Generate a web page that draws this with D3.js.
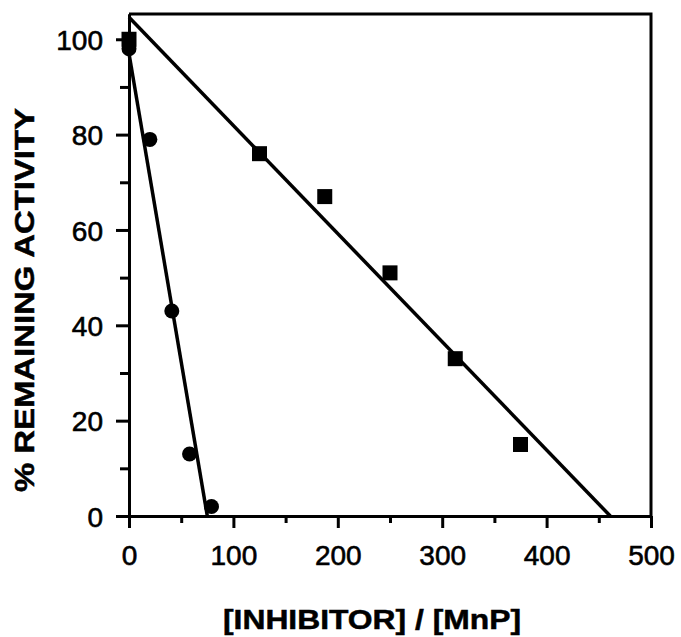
<!DOCTYPE html>
<html>
<head>
<meta charset="utf-8">
<script src="https://cdn.jsdelivr.net/npm/d3@7"></script>
<style>
  body { margin: 0; background: #fff; }
  svg { display: block; }
</style>
</head>
<body>
<div id="chart"></div>
<script>
// data
var squareX = [0, 125, 187.5, 250, 312.5, 375];
var squareY = [100, 76, 67, 51, 33, 15];
var circleX = [0, 20, 41, 58, 79];
var circleY = [98, 79, 43, 13, 2];
// fitted lines (end points)
var squareFitX = [0, 461];
var squareFitY = [104.6, 0];
var circleFitX = [0, 75];
var circleFitY = [97, 0];

var xMajor = [0, 100, 200, 300, 400, 500];
var xMinor = [50, 150, 250, 350, 450];
var yMajor = [0, 20, 40, 60, 80, 100];
var yMinor = [10, 30, 50, 70, 90];

var W = 681, H = 637;
var svg = d3.select("#chart").append("svg")
	.attr("width", W)
	.attr("height", H);

var x = d3.scaleLinear().domain([0, 500]).range([129, 651]);
var y = d3.scaleLinear().domain([0, 105.3]).range([516, 14]);

// frame (top and right)
svg.append("path")
	.attr("d", "M" + x(0) + "," + y(105.3) + "H" + x(500) + "V" + y(0))
	.attr("fill", "none")
	.attr("stroke", "#000")
	.attr("stroke-width", 3);

// x axis
var xAxis = svg.append("g")
	.attr("transform", "translate(0," + y(0) + ")")
	.call(d3.axisBottom(x).tickValues(xMajor).tickSize(12).tickSizeOuter(0).tickPadding(18));
svg.append("g")
	.attr("transform", "translate(0," + y(0) + ")")
	.call(d3.axisBottom(x).tickValues(xMinor).tickSize(7).tickSizeOuter(0).tickFormat(""));

// y axis
var yAxis = svg.append("g")
	.attr("transform", "translate(" + x(0) + ",0)")
	.call(d3.axisLeft(y).tickValues(yMajor).tickSize(13).tickSizeOuter(0).tickPadding(13));
svg.append("g")
	.attr("transform", "translate(" + x(0) + ",0)")
	.call(d3.axisLeft(y).tickValues(yMinor).tickSize(9).tickSizeOuter(0).tickFormat(""));

svg.selectAll(".domain").attr("stroke", "#000").attr("stroke-width", 3);
svg.selectAll(".tick line").attr("stroke", "#000").attr("stroke-width", 3);
svg.selectAll(".tick text")
	.attr("fill", "#000")
	.attr("stroke", "#000")
	.attr("stroke-width", 0.6)
	.style("font-family", "'Liberation Sans', Arial, sans-serif")
	.style("font-size", "28px");
yAxis.selectAll(".tick text").attr("dy", "0.36em");
xAxis.selectAll(".tick text").attr("dy", "0.68em");

// fit lines
var line = d3.line()
	.x(function(d) { return x(d[0]); })
	.y(function(d) { return y(d[1]); });

svg.append("path")
	.datum(d3.zip(squareFitX, squareFitY))
	.attr("d", line)
	.attr("fill", "none")
	.attr("stroke", "#000")
	.attr("stroke-width", 3.5);

svg.append("path")
	.datum(d3.zip(circleFitX, circleFitY))
	.attr("d", line)
	.attr("fill", "none")
	.attr("stroke", "#000")
	.attr("stroke-width", 3.5);

// markers
var sq = 15;
svg.selectAll("rect.pt")
	.data(d3.zip(squareX, squareY))
	.enter()
	.append("rect")
		.attr("class", "pt")
		.attr("x", function(d) { return x(d[0]) - sq / 2; })
		.attr("y", function(d) { return y(d[1]) - sq / 2; })
		.attr("width", sq)
		.attr("height", sq)
		.attr("fill", "#000");

svg.selectAll("circle.pt")
	.data(d3.zip(circleX, circleY))
	.enter()
	.append("circle")
		.attr("class", "pt")
		.attr("cx", function(d) { return x(d[0]); })
		.attr("cy", function(d) { return y(d[1]); })
		.attr("r", 7.5)
		.attr("fill", "#000");

// axis titles
svg.append("text")
	.attr("x", 372)
	.attr("y", 629)
	.attr("text-anchor", "middle")
	.attr("textLength", 298)
	.attr("lengthAdjust", "spacingAndGlyphs")
	.attr("stroke", "#000")
	.attr("stroke-width", 0.5)
	.style("font-family", "'Liberation Sans', Arial, sans-serif")
	.style("font-weight", "bold")
	.style("font-size", "27px")
	.text("[INHIBITOR] / [MnP]");

svg.append("text")
	.attr("transform", "translate(34,300) rotate(-90)")
	.attr("text-anchor", "middle")
	.attr("textLength", 384)
	.attr("lengthAdjust", "spacingAndGlyphs")
	.attr("stroke", "#000")
	.attr("stroke-width", 0.5)
	.style("font-family", "'Liberation Sans', Arial, sans-serif")
	.style("font-weight", "bold")
	.style("font-size", "27px")
	.text("% REMAINING ACTIVITY");
</script>
</body>
</html>
